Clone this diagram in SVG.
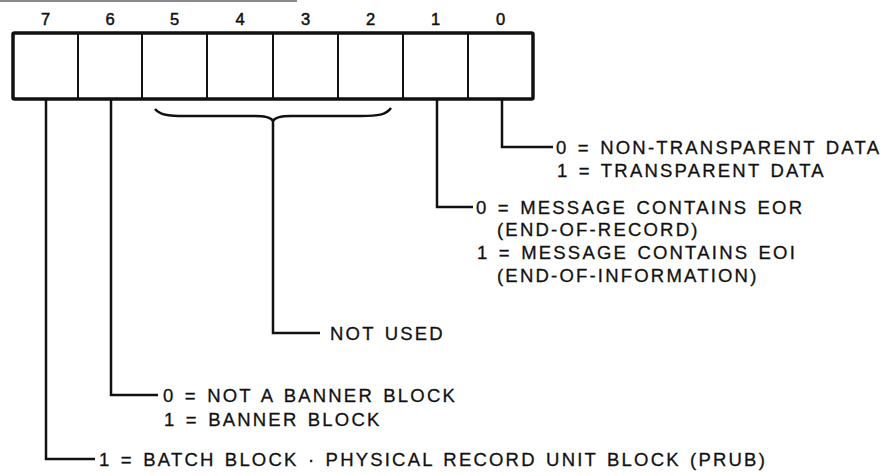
<svg xmlns="http://www.w3.org/2000/svg" width="888" height="476" viewBox="0 0 888 476">
<style>
  .num { font-family: "Liberation Sans", Arial, sans-serif; font-size: 16.5px; fill: #111; stroke: #111; stroke-width: 0.5; text-anchor: middle; }
  .lbl { font-family: "Liberation Sans", Arial, sans-serif; font-size: 18.5px; fill: #111; stroke: #111; stroke-width: 0.3; letter-spacing: 2.2px; word-spacing: 2px; }
  .cell { fill: #fff; stroke: #111; stroke-width: 2; }
  .outer { fill: none; stroke: #111; stroke-width: 3.5; }
  .wire { fill: none; stroke: #111; stroke-width: 2.5; stroke-linejoin: miter; stroke-linecap: butt; }
</style>
<rect width="888" height="476" fill="#fff"/>
<rect x="0" y="0" width="297" height="2" fill="#8a8a8a"/>

<g id="register">
  <g id="bit7"><rect class="cell" x="13" y="33" width="65" height="66"/><text class="num" x="45.5" y="25">7</text></g>
  <g id="bit6"><rect class="cell" x="78" y="33" width="64" height="66"/><text class="num" x="110" y="25">6</text></g>
  <g id="bit5"><rect class="cell" x="142" y="33" width="65" height="66"/><text class="num" x="174.5" y="25">5</text></g>
  <g id="bit4"><rect class="cell" x="207" y="33" width="66" height="66"/><text class="num" x="240" y="25">4</text></g>
  <g id="bit3"><rect class="cell" x="273" y="33" width="65" height="66"/><text class="num" x="305.5" y="25">3</text></g>
  <g id="bit2"><rect class="cell" x="338" y="33" width="65" height="66"/><text class="num" x="370.5" y="25">2</text></g>
  <g id="bit1"><rect class="cell" x="403" y="33" width="65" height="66"/><text class="num" x="435.5" y="25">1</text></g>
  <g id="bit0"><rect class="cell" x="468" y="33" width="65" height="66"/><text class="num" x="500.5" y="25">0</text></g>
  <rect class="outer" x="13" y="33" width="520" height="66" rx="1.5"/>
</g>

<g id="connectors">
  <path id="brace" class="wire" stroke-width="2.6" d="M155,109 C160,115 168,116 185,116 L255,116 C265,116 271,117 273,121 C275,117 281,116 291,116 L361,116 C378,116 386,115 391,108"/>
  <path class="wire" d="M502,99 V147 H553"/>
  <path class="wire" d="M437,99 V207 H473"/>
  <path class="wire" d="M273,120 V333 H320"/>
  <path class="wire" d="M111,99 V395 H158"/>
  <path class="wire" d="M46,99 V459 H95"/>
</g>

<g id="label-bit0">
  <text class="lbl" x="556" y="154">0 = NON-TRANSPARENT DATA</text>
  <text class="lbl" x="557" y="177">1 = TRANSPARENT DATA</text>
</g>
<g id="label-bit1">
  <text class="lbl" x="476" y="214">0 = MESSAGE CONTAINS EOR</text>
  <text class="lbl" x="497" y="236">(END-OF-RECORD)</text>
  <text class="lbl" x="477" y="259">1 = MESSAGE CONTAINS EOI</text>
  <text class="lbl" x="497" y="282">(END-OF-INFORMATION)</text>
</g>
<g id="label-bits5-2">
  <text class="lbl" x="330" y="340">NOT USED</text>
</g>
<g id="label-bit6">
  <text class="lbl" x="163" y="402">0 = NOT A BANNER BLOCK</text>
  <text class="lbl" x="164" y="426">1 = BANNER BLOCK</text>
</g>
<g id="label-bit7">
  <text class="lbl" x="99" y="466" letter-spacing="2">1 = BATCH BLOCK · PHYSICAL RECORD UNIT BLOCK (PRUB)</text>
</g>
</svg>
